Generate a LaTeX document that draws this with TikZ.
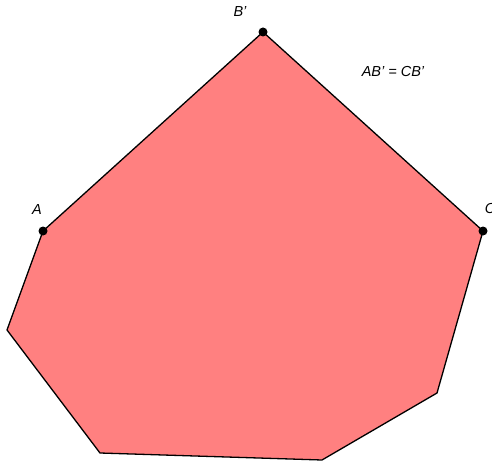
\documentclass[tikz,border=0pt]{standalone}
\usepackage{fontspec}
\setmainfont{Liberation Sans}
\usetikzlibrary{positioning}

\begin{document}
\begin{tikzpicture}[
  x=1pt, y=1pt,
  pt/.style={circle, fill=black, inner sep=0pt, minimum size=9pt},
  lbl/.style={font=\fontsize{14.5}{17}\selectfont\itshape, inner sep=0pt},
  poly/.style={draw=black, line width=1.3pt, fill=red!50, line join=miter}
]
\useasboundingbox (0,0) rectangle (492,461);
\clip (0,0) rectangle (492,461);

% corners of the polygon
\coordinate (Bp) at (263,429);
\coordinate (C)  at (483,230);
\coordinate (p1) at (437,68);
\coordinate (p2) at (322,1);
\coordinate (p3) at (100,8);
\coordinate (p4) at (7,131);
\coordinate (A)  at (43,230);

\fill[poly] (A) -- (Bp) -- (C) -- (p1) -- (p2) -- (p3) -- (p4) -- cycle;

\node[pt] (dA) at (A) {};
\node[pt] (dB) at (Bp) {};
\node[pt] (dC) at (C) {};

\node[lbl] (lA) at ([shift={(-6,21.5)}]dA.center) {A};
\node[lbl] (lB) at ([shift={(-23,20)}]dB.center) {B'};
\node[lbl] (lC) at ([shift={(7,22.5)}]dC.center) {C};
\node[lbl] (eq) at (393,389) {AB' = CB'};
\end{tikzpicture}
\end{document}
